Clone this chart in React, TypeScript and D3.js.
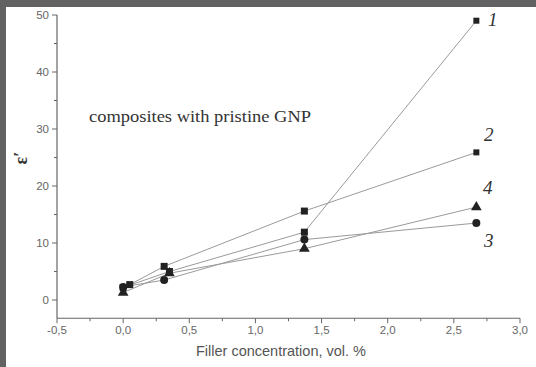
import React from "react";
import * as d3 from "d3";

const xTicks = [-0.5, 0, 0.5, 1, 1.5, 2, 2.5, 3];
const yTicks = [0, 10, 20, 30, 40, 50];

const s1x = [0, 0.35, 1.37, 2.67];
const s1y = [2.2, 5.0, 11.9, 49.0];
const s2x = [0.05, 0.31, 1.37, 2.67];
const s2y = [2.7, 5.9, 15.6, 25.9];
const s3x = [0, 0.31, 1.37, 2.67];
const s3y = [2.3, 3.5, 10.6, 13.5];
const s4x = [0, 0.35, 1.37, 2.67];
const s4y = [1.3, 4.7, 9.0, 16.3];

const seriesNames = ["1", "2", "3", "4"];
const seriesShapes = ["square", "square", "circle", "triangle"];

const W = 536, H = 367;

export default function App() {
  const x = d3.scaleLinear().domain([-0.5, 3]).range([57, 520]);
  const y = d3.scaleLinear().domain([0, 50]).range([300, 15]);
  const yBottom = y(-3.2);
  const series = [
    { xs: s1x, ys: s1y },
    { xs: s2x, ys: s2y },
    { xs: s3x, ys: s3y },
    { xs: s4x, ys: s4y },
  ];
  const line = d3.line<[number, number]>().x(d => x(d[0])).y(d => y(d[1]));
  const xMinor = d3.range(-0.25, 3, 0.5);
  const yMinor = d3.range(5, 50, 10);
  const labelPos: [number, number][] = [[488, 26], [484, 141], [484, 247], [483, 194]];
  const marker = (shape: string, cx: number, cy: number, key: string, sz: number) => {
    if (shape === "square") return <rect key={key} x={cx - sz / 2} y={cy - sz / 2} width={sz} height={sz} fill="#222" />;
    if (shape === "circle") return <circle key={key} cx={cx} cy={cy} r={4} fill="#222" />;
    const p = d3.symbol(d3.symbolTriangle, 50)();
    return <path key={key} d={p || ""} transform={`translate(${cx},${cy})`} fill="#222" />;
  };
  const fmt = (t: number) => d3.format(".1f")(t).replace(".", ",").replace("\u2212", "-");
  return (
    <svg width={W} height={H} style={{ position: "absolute", left: 0, top: 0 }}>
      <rect x={0} y={0} width={W} height={H} fill="#626262" />
      <rect x={6} y={7} width={W - 6} height={H - 7} fill="#fff" />
      {series.map((s, i) => (
        <path key={"l" + i} d={line(s.xs.map((v, j) => [v, s.ys[j]] as [number, number])) || ""} fill="none" stroke="#9a9a9a" strokeWidth={1} />
      ))}
      {series.map((s, i) =>
        s.xs.map((v, j) => marker(seriesShapes[i], x(v), y(s.ys[j]), `m${i}-${j}`, j === 3 ? 6 : 7))
      )}
      {seriesNames.map((n, i) => (
        <text key={"n" + i} x={labelPos[i][0]} y={labelPos[i][1]} fontFamily="Liberation Serif" fontStyle="italic" fontSize={19} fill="#333">{n}</text>
      ))}
      {/* axes */}
      <line x1={57} x2={57} y1={15} y2={yBottom} stroke="#666" strokeWidth={1.2} />
      <line x1={57} x2={520} y1={yBottom} y2={yBottom} stroke="#666" strokeWidth={1.2} />
      {yTicks.map(t => (
        <g key={"yt" + t}>
          <line x1={52} x2={57} y1={y(t)} y2={y(t)} stroke="#666" />
          <text x={49} y={y(t) + 4} textAnchor="end" fontFamily="Liberation Sans" fontSize={11.5} fill="#666">{t}</text>
        </g>
      ))}
      {yMinor.map(t => (
        <line key={"ym" + t} x1={54} x2={57} y1={y(t)} y2={y(t)} stroke="#666" />
      ))}
      {xTicks.map(t => (
        <g key={"xt" + t}>
          <line x1={x(t)} x2={x(t)} y1={yBottom} y2={yBottom + 5} stroke="#666" />
          <text x={x(t)} y={yBottom + 16} textAnchor="middle" fontFamily="Liberation Sans" fontSize={11.5} fill="#666">{fmt(t)}</text>
        </g>
      ))}
      {xMinor.map(t => (
        <line key={"xm" + t} x1={x(t)} x2={x(t)} y1={yBottom} y2={yBottom + 3} stroke="#666" />
      ))}
      <text x={281} y={356} textAnchor="middle" fontFamily="Liberation Sans" fontSize={14.5} fill="#555">Filler concentration, vol. %</text>
      <text transform="translate(27,158) rotate(-90)" textAnchor="middle" fontFamily="Liberation Serif" fontWeight="bold" fontSize={18} fill="#333">ε′</text>
      <text x={89} y={122} fontFamily="Liberation Serif" fontSize={17} textLength={222} lengthAdjust="spacingAndGlyphs" fill="#333">composites with pristine GNP</text>
    </svg>
  );
}
